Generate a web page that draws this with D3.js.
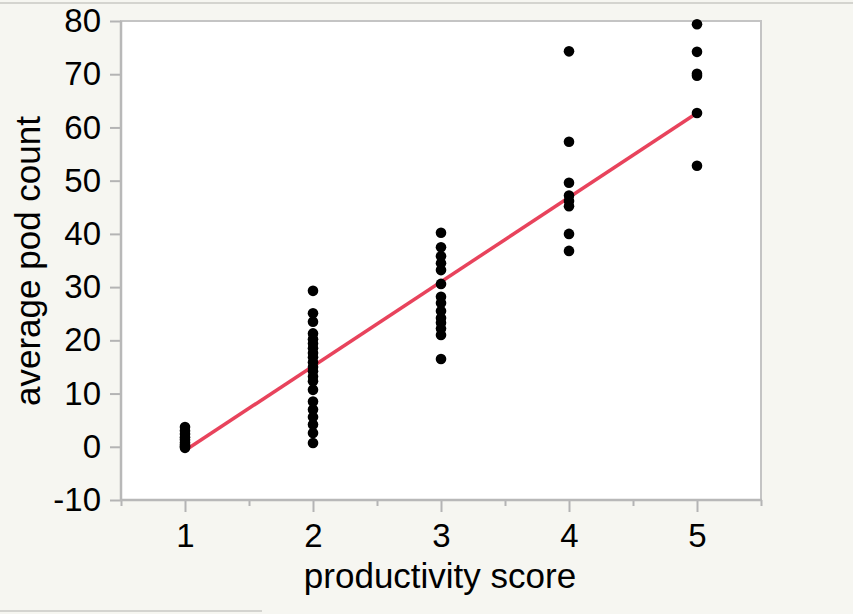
<!DOCTYPE html>
<html>
<head>
<meta charset="utf-8">
<script src="https://cdn.jsdelivr.net/npm/d3@7"></script>
<style>
	body{margin:0;background:#f6f6f1;}
	svg{display:block;font-family:"Liberation Sans",Arial,sans-serif;}
</style>
</head>
<body>
<script>
var width=853,
	height=614;

// data
var scores=[1,2,3,4,5];
var podCounts=[
	[3.7,3.0,2.4,1.8,1.3,0.8,0.4,0.1,-0.2],
	[29.3,25.1,23.5,21.3,20.2,19.4,18.5,17.6,16.8,15.9,15.0,14.2,13.2,12.3,10.7,8.5,7.0,5.6,4.2,2.6,0.7],
	[40.2,37.5,35.8,34.5,33.2,30.6,28.2,27.0,25.5,24.2,23.3,22.2,21.0,16.5],
	[74.3,57.3,49.6,47.2,46.2,45.2,40.0,36.8],
	[79.4,74.2,70.1,69.7,62.7,52.8]
];
var fitLine=[[1,-0.7],[5,62.7]];
var yTicks=[-10,0,10,20,30,40,50,60,70,80];
var xMajor=[1,2,3,4,5],
	xMinor=[0.5,1.5,2.5,3.5,4.5,5.5];

var plot={left:121,top:21,right:761,bottom:500};

var svg=d3.select("body").append("svg").attr("width",width).attr("height",height)

var x=d3.scaleLinear().domain([0.5,5.5]).range([plot.left,plot.right]),
	y=d3.scaleLinear().domain([-10,80]).range([plot.bottom,plot.top]);

// window frame bits
svg.append("line").attr("x1",0).attr("x2",width).attr("y1",3).attr("y2",3)
	.attr("stroke","#d4d4cf").attr("stroke-width",2)
svg.append("line").attr("x1",0).attr("x2",262).attr("y1",611).attr("y2",611)
	.attr("stroke","#c8c8c4").attr("stroke-width",1.5)

svg.append("rect").attr("x",plot.left).attr("y",plot.top)
	.attr("width",plot.right-plot.left).attr("height",plot.bottom-plot.top)
	.attr("fill","white").attr("stroke","#c4c4c4").attr("stroke-width",2)

// y axis
var yAxis=svg.append("g").attr("transform","translate("+plot.left+",0)")
	.call(d3.axisLeft(y).tickValues(yTicks).tickSize(11).tickPadding(9).tickFormat((d)=>String(d)))
yAxis.select(".domain").remove()

// x axis
var xMinAxis=svg.append("g").attr("transform","translate(0,"+plot.bottom+")")
	.call(d3.axisBottom(x).tickValues(xMinor).tickSize(6).tickFormat(""))
xMinAxis.select(".domain").remove()
var xAxis=svg.append("g").attr("transform","translate(0,"+plot.bottom+")")
	.call(d3.axisBottom(x).tickValues(xMajor).tickSize(12).tickPadding(12).tickFormat((d)=>String(d)))
xAxis.select(".domain").remove()

svg.selectAll(".tick line").attr("stroke","#b4b4b4").attr("stroke-width",2)
svg.selectAll(".tick text").attr("fill","#000").style("font-size","33px")
	.style("font-family","'Liberation Sans',Arial,sans-serif")

// axis lines on the left and bottom
svg.append("line").attr("x1",plot.left).attr("x2",plot.left).attr("y1",plot.top).attr("y2",plot.bottom+1)
	.attr("stroke","#b8b8b8").attr("stroke-width",2.5)
svg.append("line").attr("x1",plot.left).attr("x2",plot.right+1).attr("y1",plot.bottom).attr("y2",plot.bottom)
	.attr("stroke","#b8b8b8").attr("stroke-width",2.5)

// regression line
svg.append("path").datum(fitLine)
	.attr("d",d3.line().x((d)=>x(d[0])).y((d)=>y(d[1])))
	.attr("stroke","#e8435c").attr("stroke-width",3.5).attr("fill","none")

// points
var pts=[]
scores.forEach((s,i)=>podCounts[i].forEach((v)=>pts.push({s:s,v:v})))
svg.append("g").selectAll("circle").data(pts).enter().append("circle")
	.attr("cx",(d)=>x(d.s))
	.attr("cy",(d)=>y(d.v))
	.attr("r",5.3)
	.attr("fill","black")

// titles
svg.append("text").attr("x",440).attr("y",588)
	.attr("text-anchor","middle").style("font-size","35px").attr("fill","#000")
	.text("productivity score")
svg.append("text").attr("transform","translate(40,261) rotate(-90)")
	.attr("text-anchor","middle").style("font-size","35px").attr("fill","#000")
	.text("average pod count")
</script>
</body>
</html>
